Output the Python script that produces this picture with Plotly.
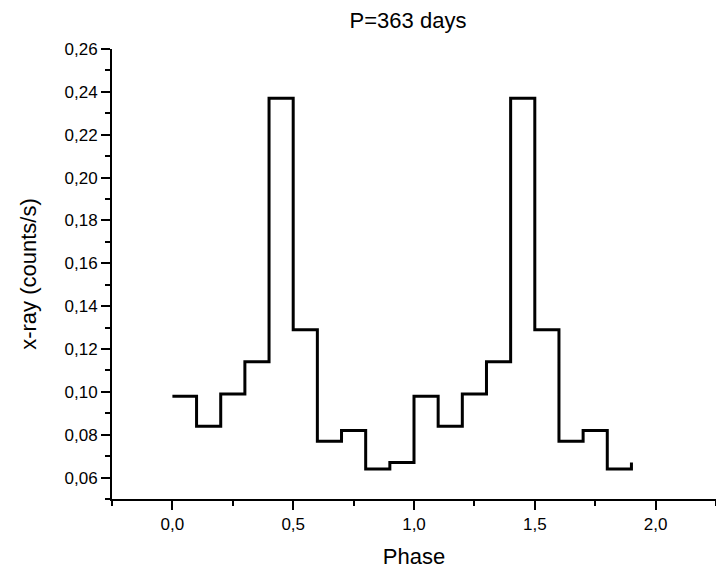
import plotly.graph_objects as go

# Phase bin starts (step histogram, bin width 0.1) and x-ray rates
phase = [0.0, 0.1, 0.2, 0.3, 0.4, 0.5, 0.6, 0.7, 0.8, 0.9,
         1.0, 1.1, 1.2, 1.3, 1.4, 1.5, 1.6, 1.7, 1.8, 1.9]
rate = [0.098, 0.084, 0.099, 0.114, 0.237, 0.129, 0.077, 0.082, 0.064, 0.067,
        0.098, 0.084, 0.099, 0.114, 0.237, 0.129, 0.077, 0.082, 0.064, 0.067]

x_ticks = [0.0, 0.5, 1.0, 1.5, 2.0]
y_ticks = [0.06, 0.08, 0.10, 0.12, 0.14, 0.16, 0.18, 0.20, 0.22, 0.24, 0.26]

FONT = "Liberation Sans, Arial, sans-serif"

fig = go.Figure()
fig.add_trace(go.Scatter(
    x=phase, y=rate, mode="lines",
    line=dict(color="black", width=3, shape="hv"),
    showlegend=False,
))

fig.update_layout(
    width=716, height=571,
    margin=dict(l=112, r=0, t=49, b=72),
    paper_bgcolor="white", plot_bgcolor="white",
    separators=", ",
    font=dict(family=FONT, color="black", size=17),
    title=dict(text="P=363 days", x=408 / 716, xanchor="center",
               y=1 - 20 / 571, yanchor="middle", yref="container",
               font=dict(size=22, family=FONT, color="black")),
)

fig.update_xaxes(
    range=[-0.25, 2.25],
    tickmode="array", tickvals=x_ticks, tickformat=".1f",
    ticks="outside", ticklen=9, tickwidth=2, tickcolor="black",
    showline=True, linecolor="black", linewidth=2,
    showgrid=False, zeroline=False,
    tickfont=dict(size=17, family=FONT),
    title=dict(text="Phase", font=dict(size=22, family=FONT), standoff=15),
    minor=dict(ticks="outside", ticklen=5, tickwidth=2, tickcolor="black",
               tick0=-0.25, dtick=0.25, showgrid=False),
)

fig.update_yaxes(
    range=[0.05, 0.26],
    tickmode="array", tickvals=y_ticks, tickformat=".2f",
    ticks="outside", ticklen=9, tickwidth=2, tickcolor="black",
    showline=True, linecolor="black", linewidth=2,
    showgrid=False, zeroline=False,
    tickfont=dict(size=17, family=FONT),
    title=dict(text="x-ray (counts/s)", font=dict(size=22, family=FONT), standoff=22),
    minor=dict(ticks="outside", ticklen=5, tickwidth=2, tickcolor="black",
               tick0=0.05, dtick=0.01, showgrid=False),
)

fig.write_html("out.html")
